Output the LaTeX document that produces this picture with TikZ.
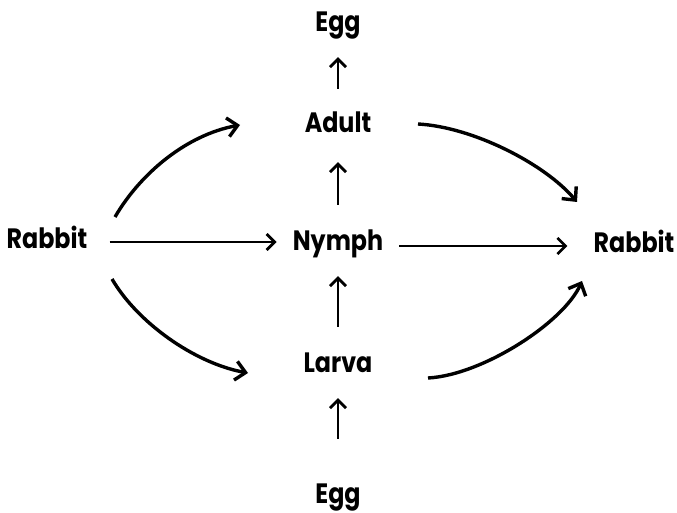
\documentclass[tikz,border=0pt]{standalone}
\usepackage{fontspec}
\setmainfont{Poppins}[FakeStretch=0.85]
\usetikzlibrary{arrows.meta}
\tikzset{
  stage/.style={inner sep=0pt, font=\fontsize{28}{32}\selectfont\bfseries,
                text height=20pt, text depth=7pt},
  arr/.style={-{Straight Barb[length=8pt,width=16pt]}, line width=2.8pt},
  cyc/.style={-{Straight Barb[length=10pt,width=19pt]}, line width=3.4pt}
}

\begin{document}
\begin{tikzpicture}[x=1pt,y=-1pt]
  \useasboundingbox (0,0) rectangle (677,513);
  \node[stage] (Nymph)   at (338,243.5) {Nymph};
  \node[stage] (Adult)   at (338,126.5) {Adult};
  \node[stage] (Larva)   at (338,365.5) {Larva};
  \node[stage] (EggTop)  at (338,25.5)  {Egg};
  \node[stage] (EggBot)  at (338,496.5) {Egg};
  \node[stage] (RabbitL) at (47,242)    {Rabbit};
  \node[stage] (RabbitR) at (634,246)   {Rabbit};

  % up the middle
  \draw[arr,shorten <=44pt,shorten >=19pt](EggBot)--(Larva);
  \draw[arr,shorten <=25pt,shorten >=19pt](Larva)--(Nymph);
  \draw[arr,shorten <=25pt,shorten >=22pt](Nymph)--(Adult);
  \draw[arr,shorten <=24pt,shorten >=18pt](Adult)--(EggTop);
  % across
  \draw[arr,shorten <=22pt,shorten >=16pt](RabbitL.east)--(RabbitL.east -| Nymph.west);
  \draw[arr,shorten <=16pt,shorten >=26pt](Nymph.east |- RabbitR.west)--(RabbitR.west);
  % round the sides
  \draw[cyc]([shift={(68,-25)}]RabbitL.center)
    .. controls +(25,-43) and +(-54,10) .. ([shift={(-98,-1.5)}]Adult.center);
  \draw[cyc]([shift={(65,37)}]RabbitL.center)
    .. controls +(25,43) and +(-54,-10) .. ([shift={(-90,7.5)}]Larva.center);
  \draw[cyc]([shift={(80,-2.5)}]Adult.center)
    .. controls +(55,3) and +(-32,-38) .. ([shift={(-57,-44)}]RabbitR.center);
  \draw[cyc]([shift={(90,12.5)}]Larva.center)
    .. controls +(55,-3) and +(-18,41) .. ([shift={(-52,35)}]RabbitR.center);
\end{tikzpicture}
\end{document}
